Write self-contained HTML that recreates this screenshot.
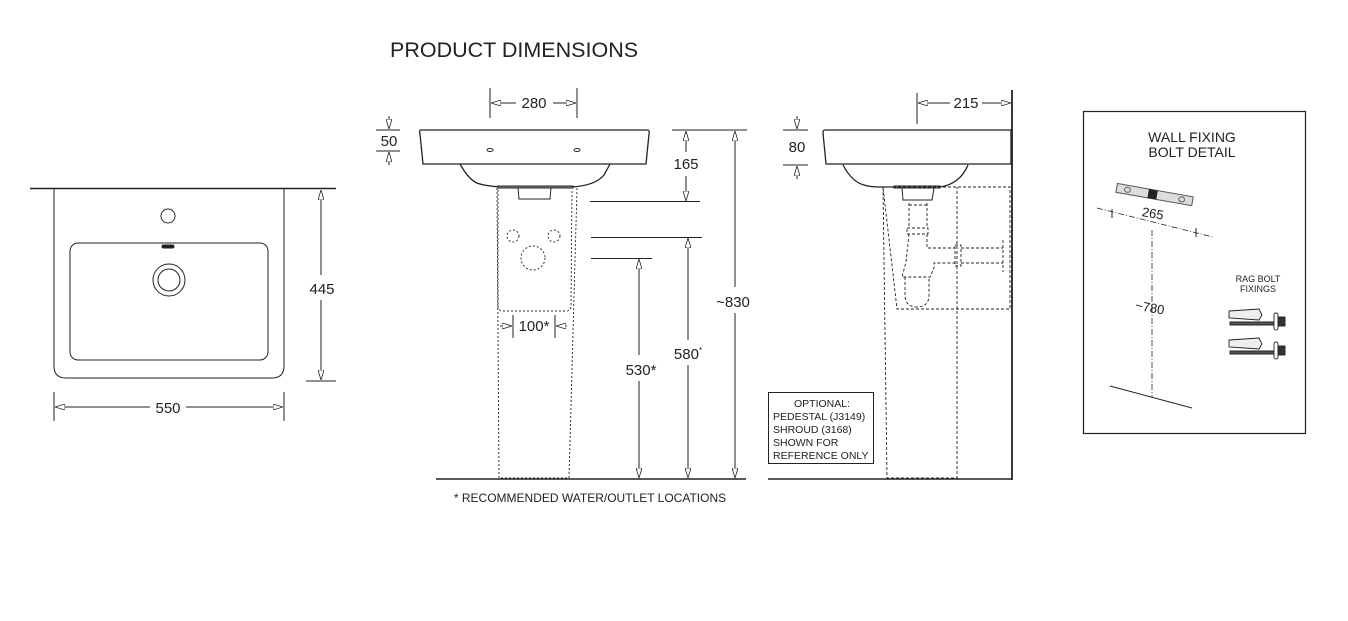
<!DOCTYPE html>
<html><head><meta charset="utf-8"><style>
html,body{margin:0;padding:0;background:#fff;}
svg{display:block;font-family:"Liberation Sans",Arial,sans-serif;}
</style></head><body>
<svg width="1348" height="621" viewBox="0 0 1348 621" xmlns="http://www.w3.org/2000/svg">
<defs>
<marker id="a" viewBox="0 0 10 6" refX="10" refY="3" markerWidth="10" markerHeight="6" orient="auto-start-reverse" markerUnits="userSpaceOnUse"><path d="M0,0 L10,3 L0,6 Z" fill="#fff" stroke="#222" stroke-width="0.8"/></marker>
</defs>
<g fill="none" stroke="#222" stroke-width="1">
<!-- PLAN VIEW -->
<line x1="30" y1="188.5" x2="336" y2="188.5" stroke-width="1.6"/>
<path d="M54,189 V366 Q54,378 66,378 H272 Q284,378 284,366 V189"/>
<rect x="70" y="243" width="198" height="117" rx="8"/>
<circle cx="168" cy="216" r="7"/>
<rect x="162" y="245" width="12" height="3" rx="1.5" fill="#222"/>
<circle cx="169" cy="280" r="16"/>
<circle cx="169" cy="280" r="11"/>
<line x1="306" y1="381" x2="336" y2="381"/>
<line x1="321" y1="190" x2="321" y2="275" marker-start="url(#a)"/>
<line x1="321" y1="300" x2="321" y2="380" marker-end="url(#a)"/>
<line x1="54" y1="392" x2="54" y2="421"/>
<line x1="284" y1="392" x2="284" y2="421"/>
<line x1="55" y1="407" x2="150" y2="407" marker-start="url(#a)"/>
<line x1="186" y1="407" x2="283" y2="407" marker-end="url(#a)"/>

<!-- FRONT VIEW -->
<line x1="490" y1="88" x2="490" y2="118"/>
<line x1="577" y1="88" x2="577" y2="118"/>
<line x1="491" y1="103" x2="516" y2="103" marker-start="url(#a)"/>
<line x1="553" y1="103" x2="576" y2="103" marker-end="url(#a)"/>
<line x1="376" y1="130" x2="400" y2="130"/>
<line x1="376" y1="151" x2="400" y2="151"/>
<line x1="389" y1="116" x2="389" y2="129" marker-end="url(#a)"/>
<line x1="389" y1="165" x2="389" y2="152" marker-end="url(#a)"/>
<path d="M421,130 H647 Q650,130 649,134 L646,164 H423 L420,134 Q419,130 421,130 Z" stroke-width="1.3"/>
<path d="M460,164 Q470,182 480,184 Q490,187 510,187 H570 Q595,186 604,175 L610,164" stroke-width="1.3"/>
<rect x="498" y="186" width="75" height="2" fill="#888"/>
<path d="M518,188 L519,199 H550 L551,188"/>
<ellipse cx="490" cy="150" rx="3" ry="1.5"/>
<ellipse cx="577" cy="150" rx="3" ry="1.5"/>
<g stroke-dasharray="2,2" stroke-width="0.9">
<path d="M497,188 L499,478 H569 L577,188"/>
<path d="M498,190 L498,306 Q498,311 503,311 H566 Q571,311 571,306 L572,190"/>
<circle cx="513" cy="236" r="6"/>
<circle cx="554" cy="236" r="6"/>
<circle cx="533" cy="258" r="12"/>
</g>
<line x1="513" y1="315" x2="513" y2="338"/>
<line x1="555" y1="315" x2="555" y2="338"/>
<line x1="500" y1="326" x2="512" y2="326" marker-end="url(#a)"/>
<line x1="567" y1="326" x2="556" y2="326" marker-end="url(#a)"/>
<line x1="436" y1="479" x2="746" y2="479" stroke-width="1.6"/>
<line x1="672" y1="130" x2="747" y2="130"/>
<line x1="590" y1="201.5" x2="700" y2="201.5"/>
<line x1="591" y1="237.5" x2="702" y2="237.5"/>
<line x1="591" y1="258.5" x2="652" y2="258.5"/>
<line x1="686" y1="131" x2="686" y2="152" marker-start="url(#a)"/>
<line x1="686" y1="176" x2="686" y2="201" marker-end="url(#a)"/>
<line x1="688" y1="238" x2="688" y2="340" marker-start="url(#a)"/>
<line x1="688" y1="365" x2="688" y2="478" marker-end="url(#a)"/>
<line x1="639" y1="259" x2="639" y2="355" marker-start="url(#a)"/>
<line x1="639" y1="381" x2="639" y2="478" marker-end="url(#a)"/>
<line x1="735" y1="131" x2="735" y2="287" marker-start="url(#a)"/>
<line x1="735" y1="313" x2="735" y2="478" marker-end="url(#a)"/>

<!-- SIDE VIEW -->
<line x1="1012" y1="90" x2="1012" y2="480" stroke-width="1.8"/>
<line x1="768" y1="479" x2="1012" y2="479" stroke-width="1.6"/>
<line x1="917" y1="93" x2="917" y2="124"/>
<line x1="918" y1="103" x2="950" y2="103" marker-start="url(#a)"/>
<line x1="982" y1="103" x2="1011" y2="103" marker-end="url(#a)"/>
<line x1="783" y1="130" x2="808" y2="130"/>
<line x1="783" y1="165" x2="808" y2="165"/>
<line x1="797" y1="116" x2="797" y2="129" marker-end="url(#a)"/>
<line x1="797" y1="179" x2="797" y2="166" marker-end="url(#a)"/>
<path d="M825,130 H1011 V164 H826 L823,133 Q823,130 825,130 Z" stroke-width="1.3"/>
<path d="M843,165 Q852,182 864,185 Q870,187 880,187 H940 Q960,184 968,165" stroke-width="1.3"/>
<rect x="894" y="186" width="46" height="2" fill="#888"/>
<path d="M902,188 L903,200 H932 L934,188"/>
<g stroke-dasharray="3,2" stroke-width="0.9">
<path d="M883,187 H1010 V309 H897 L883,187"/>
<path d="M883,187 L887,478 H957 V187"/>
<path d="M909,203 V228 M927,203 V228 M909,205 H927"/>
<rect x="907" y="228" width="21" height="6"/>
<path d="M909,234 L906,262 L902,277 H930 L934,268 V263 H955 M927,234 V248 H955"/>
<rect x="955" y="245" width="6" height="21"/>
<path d="M961,248 H1003 M961,263 H1003 M1003,240 V272"/>
<path d="M905,277 V295 Q905,307 917,307 Q929,307 929,295 V277"/>
</g>
<rect x="768.5" y="392.5" width="105" height="71"/>

<!-- WALL FIXING BOX -->
<rect x="1083.5" y="111.5" width="222" height="322" stroke-width="1.2"/>
<g transform="rotate(10 1154 195)">
<rect x="1116" y="190" width="77" height="9" fill="#ddd" stroke="#555"/>
<rect x="1148" y="190" width="9" height="9" fill="#222" stroke="none"/>
<ellipse cx="1127" cy="194.5" rx="3" ry="2.5" stroke="#666"/>
<ellipse cx="1182" cy="194.5" rx="3" ry="2.5" stroke="#666"/>
</g>
<g stroke-dasharray="6,2,1,2" stroke-width="0.8">
<line x1="1097" y1="208" x2="1213" y2="237"/>
<line x1="1152" y1="230" x2="1152" y2="397"/>
</g>
<line x1="1112" y1="209" x2="1112" y2="218"/>
<line x1="1196" y1="228" x2="1196" y2="237"/>
<line x1="1110" y1="386" x2="1192" y2="408"/>
<g stroke-width="0.9">
<path d="M1229,311 L1259,309 L1262,315 L1259,320 L1229,318 Z" fill="#eee"/>
<path d="M1230,322 H1275 V325 H1230 Z" fill="#555"/>
<rect x="1274" y="313" width="4" height="17" rx="2" fill="#fff"/>
<rect x="1278" y="317" width="7" height="9" fill="#333"/>
<path d="M1229,340 L1259,338 L1262,344 L1259,349 L1229,347 Z" fill="#eee"/>
<path d="M1230,351 H1275 V354 H1230 Z" fill="#555"/>
<rect x="1274" y="342" width="4" height="17" rx="2" fill="#fff"/>
<rect x="1278" y="346" width="7" height="9" fill="#333"/>
</g>
</g>

<g fill="#222" font-size="15" text-anchor="middle">
<text x="390" y="57" font-size="21.5" text-anchor="start">PRODUCT DIMENSIONS</text>
<text x="322" y="294">445</text>
<text x="168" y="413">550</text>
<text x="534" y="108">280</text>
<text x="389" y="146">50</text>
<text x="686" y="169">165</text>
<text x="688" y="359">580<tspan font-size="8" dy="-6">*</tspan></text>
<text x="641" y="375">530*</text>
<text x="733" y="307">~830</text>
<text x="534" y="331">100*</text>
<text x="966" y="108">215</text>
<text x="797" y="152">80</text>
<text x="590" y="502" font-size="12">* RECOMMENDED WATER/OUTLET LOCATIONS</text>
<g font-size="10.5">
<text x="822" y="407">OPTIONAL:</text>
<text x="773" y="420" text-anchor="start">PEDESTAL (J3149)</text>
<text x="773" y="433" text-anchor="start">SHROUD (3168)</text>
<text x="773" y="446" text-anchor="start">SHOWN FOR</text>
<text x="773" y="459" text-anchor="start">REFERENCE ONLY</text>
</g>
<text x="1192" y="142" font-size="14">WALL FIXING</text>
<text x="1192" y="157" font-size="14">BOLT DETAIL</text>
<text x="1153" y="218" font-size="13" transform="rotate(10 1153 213)">265</text>
<text x="1150" y="312" font-size="13" transform="rotate(10 1150 307)">~780</text>
<text x="1258" y="282" font-size="9">RAG BOLT</text>
<text x="1258" y="292" font-size="9">FIXINGS</text>
</g>
</svg>
</body></html>
